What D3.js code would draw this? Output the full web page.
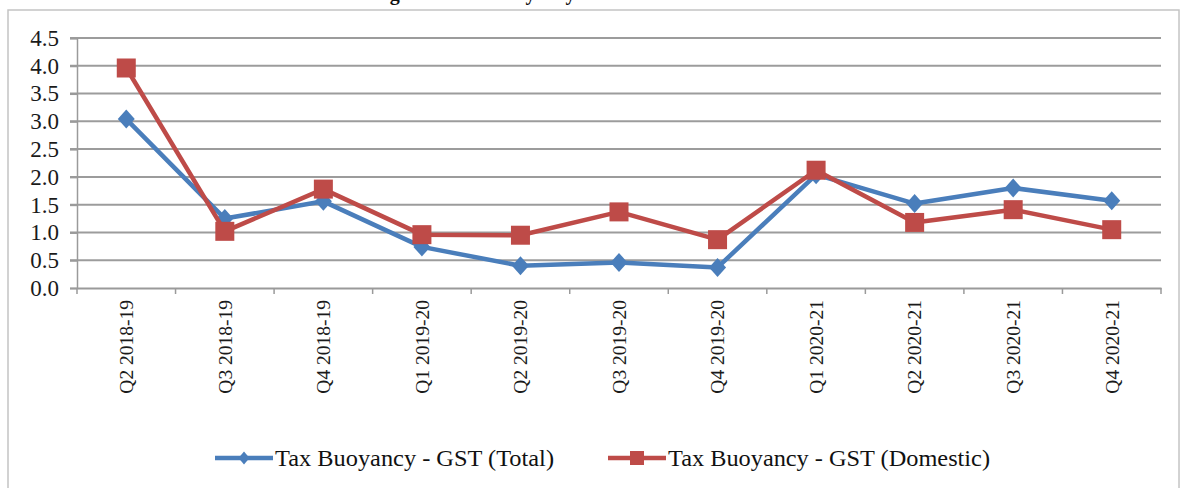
<!DOCTYPE html>
<html>
<head>
<meta charset="utf-8">
<script src="https://cdn.jsdelivr.net/npm/d3@7"></script>
<style>
  html, body { margin: 0; padding: 0; background: #fff; }
  svg { display: block; }
</style>
</head>
<body>
<svg id="chart" width="1184" height="488"></svg>
<script>
// Quarterly GST tax buoyancy
const quarters = ["Q2 2018-19", "Q3 2018-19", "Q4 2018-19", "Q1 2019-20", "Q2 2019-20",
  "Q3 2019-20", "Q4 2019-20", "Q1 2020-21", "Q2 2020-21", "Q3 2020-21", "Q4 2020-21"];
const gstTotal    = [3.04, 1.25, 1.56, 0.74, 0.40, 0.46, 0.37, 2.04, 1.52, 1.80, 1.57];
const gstDomestic = [3.96, 1.02, 1.78, 0.96, 0.95, 1.37, 0.87, 2.12, 1.18, 1.41, 1.05];
const yTicks = [0, 0.5, 1, 1.5, 2, 2.5, 3, 3.5, 4, 4.5];
const seriesNames = ["Tax Buoyancy - GST (Total)", "Tax Buoyancy - GST (Domestic)"];

const svg = d3.select("#chart");
const font = "'Liberation Serif', 'Times New Roman', serif";

// frame
svg.append("rect").attr("x", 8).attr("y", 10).attr("width", 1171).attr("height", 490)
  .attr("fill", "#fff").attr("stroke", "#c4c4c4").attr("stroke-width", 1.5);

// title (sits partly above the top edge)
svg.append("text").attr("x", 372).attr("y", 0)
  .attr("font-family", font).attr("font-weight", "bold").attr("font-size", 20)
  .attr("fill", "#111").text("Figure 8: Tax Buoyancy of GST");

const x = d3.scaleBand().domain(quarters).range([77, 1161]).padding(0);
const y = d3.scaleLinear().domain([0, 4.5]).range([288, 38]);

// horizontal grid
svg.append("g").selectAll("line").data(yTicks.filter(d => d > 0)).join("line")
  .attr("x1", 70).attr("x2", 1161)
  .attr("y1", d => y(d)).attr("y2", d => y(d))
  .attr("stroke", "#9c9c9c").attr("stroke-width", 2);

// y axis
const yAxis = svg.append("g").attr("transform", "translate(77,0)")
  .call(d3.axisLeft(y).tickValues(yTicks).tickFormat(d3.format(".1f")).tickSize(7).tickPadding(11));
yAxis.select(".domain").attr("stroke", "#9a9a9a").attr("stroke-width", 1.5);
yAxis.selectAll(".tick line").attr("stroke", "#9a9a9a").attr("stroke-width", 2);
yAxis.selectAll("text").attr("font-family", font).attr("font-size", 23).attr("fill", "#1a1a1a");

// x axis
const xAxis = svg.append("g").attr("transform", "translate(0,288)")
  .call(d3.axisBottom(x).tickSize(0).tickPadding(0));
xAxis.select(".domain").attr("stroke", "#9a9a9a").attr("stroke-width", 2);
xAxis.selectAll(".tick text")
  .attr("font-family", font).attr("font-size", 19.5).attr("fill", "#1a1a1a")
  .attr("text-anchor", "end").attr("dy", "0.35em")
  .attr("transform", "translate(0,12) rotate(-90)");
// category boundary ticks
const bounds = quarters.map(q => x(q)).concat([x.range()[1]]);
svg.append("g").selectAll("line").data(bounds).join("line")
  .attr("x1", d => d).attr("x2", d => d).attr("y1", 288).attr("y2", 294)
  .attr("stroke", "#9a9a9a").attr("stroke-width", 1.5);

const cx = q => x(q) + x.bandwidth() / 2;
const line = d3.line().x((d, i) => cx(quarters[i])).y(d => y(d));
const diamond = (w, h) => `M0,${-h}L${w},0L0,${h}L${-w},0Z`;

const blue = "#4a7ebb", red = "#be4b48";

// Total series
svg.append("path").datum(gstTotal).attr("d", line)
  .attr("fill", "none").attr("stroke", blue).attr("stroke-width", 4.5).attr("stroke-linejoin", "round");
svg.append("g").selectAll("path").data(gstTotal).join("path")
  .attr("d", diamond(8.5, 9.5))
  .attr("transform", (d, i) => `translate(${cx(quarters[i])},${y(d)})`)
  .attr("fill", blue);

// Domestic series
svg.append("path").datum(gstDomestic).attr("d", line)
  .attr("fill", "none").attr("stroke", red).attr("stroke-width", 4.5).attr("stroke-linejoin", "round");
svg.append("g").selectAll("rect").data(gstDomestic).join("rect")
  .attr("x", (d, i) => cx(quarters[i]) - 9.5).attr("y", d => y(d) - 9.5)
  .attr("width", 19).attr("height", 19).attr("fill", red);

// legend
const legend = [
  { name: seriesNames[0], color: blue, x0: 215, len: 279, marker: "diamond" },
  { name: seriesNames[1], color: red, x0: 608, len: 322, marker: "square" }
];
const lg = svg.append("g");
legend.forEach(l => {
  const ly = 458;
  lg.append("line").attr("x1", l.x0).attr("x2", l.x0 + 58).attr("y1", ly).attr("y2", ly)
    .attr("stroke", l.color).attr("stroke-width", 4.5);
  if (l.marker === "diamond") {
    lg.append("path").attr("d", diamond(5.5, 6.5))
      .attr("transform", `translate(${l.x0 + 29},${ly})`).attr("fill", l.color);
  } else {
    lg.append("rect").attr("x", l.x0 + 29 - 7).attr("y", ly - 7).attr("width", 14).attr("height", 14)
      .attr("fill", l.color);
  }
  lg.append("text").attr("x", l.x0 + 60).attr("y", ly).attr("dy", "0.35em")
    .attr("font-family", font).attr("font-size", 23).attr("fill", "#111")
    .attr("textLength", l.len).attr("lengthAdjust", "spacingAndGlyphs").text(l.name);
});
</script>
</body>
</html>
